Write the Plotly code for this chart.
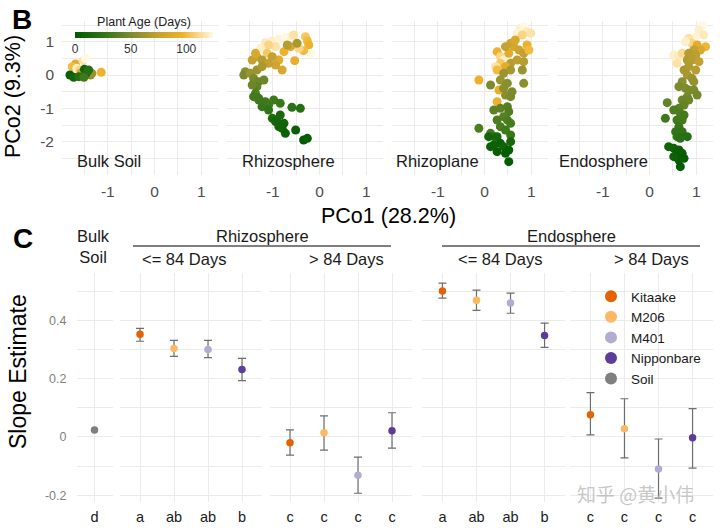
import plotly.graph_objects as go

# ---------------- Panel B: PCoA scores (PCo1, PCo2) and plant age (days) ----------------
compartments = ["Bulk Soil", "Rhizosphere", "Rhizoplane", "Endosphere"]

bulk_pc1 = [-1.69, -1.76, -1.66, -1.53, -1.48, -1.14, -1.60, -1.57, -1.37, -1.34,
            -1.81, -1.73, -1.62, -1.50, -1.46, -1.51, -1.41]
bulk_pc2 = [0.33, 0.25, 0.20, 0.43, 0.50, 0.08, 0.15, 0.07, 0.00, 0.05,
            0.00, -0.07, -0.05, 0.17, 0.05, -0.07, 0.15]
bulk_age = [90, 100, 120, 115, 125, 95, 110, 80, 55, 60,
            5, 10, 20, 8, 15, 30, 20]

rhizosphere_pc1 = [-1.16, -1.01, -0.87, -0.73, -0.59, -0.55, -0.30, -0.26, -0.23, -0.19,
                   -0.34, -0.44, -0.62, -0.76, -0.94, -1.09, -1.26, -1.12, -0.87, -0.80,
                   -0.94, -0.53, -1.34, -1.44, -1.23, -1.01, -0.69, -0.48, -1.09, -1.37,
                   -1.59, -1.62, -1.48, -1.34, -1.23, -1.41, -1.30, -1.19, -1.34, -1.44,
                   -1.37, -1.30, -1.16, -1.23, -1.09, -0.98, -0.84, -1.09, -0.59, -0.41, -1.30, -1.41,
                   -1.01, -0.91, -0.84, -0.76, -0.80, -0.94, -0.51, -0.34, -0.26, -0.73, -0.87]
rhizosphere_pc2 = [0.97, 1.03, 1.07, 1.13, 1.17, 1.20, 1.15, 1.03, 0.90, 0.65,
                   0.73, 0.80, 0.85, 0.70, 0.85, 0.90, 0.80, 0.65, 0.45, 0.15,
                   0.30, 0.43, 0.55, 0.45, 0.45, 0.55, 0.90, 0.95, 0.35, 0.65,
                   0.10, 0.00, 0.05, 0.15, 0.25, -0.10, -0.20, -0.15, -0.35, -0.30,
                   -0.55, -0.70, -0.80, -0.95, -0.90, -0.75, -0.85, -1.05, -0.97, -1.00, -0.75, -0.65,
                   -1.30, -1.35, -1.20, -1.45, -1.60, -1.40, -1.65, -1.95, -1.90, -1.75, -1.55]
rhizosphere_age = [118, 120, 122, 125, 120, 115, 105, 100, 95, 125,
                   100, 110, 85, 95, 115, 110, 120, 105, 90, 85,
                   80, 92, 80, 75, 70, 75, 70, 65, 75, 85,
                   55, 50, 60, 60, 65, 50, 45, 45, 40, 45,
                   35, 30, 30, 28, 30, 30, 28, 25, 22, 20, 30, 32,
                   15, 12, 14, 10, 8, 12, 5, 2, 4, 6, 10]

rhizoplane_pc1 = [0.77, 0.84, 0.91, 0.70, 0.99, 0.81,
                  0.27, 0.34, 0.41, 0.52, 0.63, 0.74, 0.84, 0.91, 0.95, 0.56,
                  0.45, 0.66, 0.34, 0.24, 0.56, 0.70, 0.84, 0.45, 0.27, -0.12,
                  0.56, 0.81, 0.84, 0.41, 0.34, 0.49, 0.59, 0.45, 0.13, 0.31, 0.56, 0.41, 0.27,
                  0.20, 0.34, 0.49, 0.52, 0.41, 0.27, 0.49, 0.56, 0.34, 0.45, 0.56, -0.12, 0.13, 0.20,
                  0.09, 0.27, 0.20, 0.34, 0.41, 0.52, 0.27, 0.45, 0.56, 0.52, 0.13]
rhizoplane_pc2 = [1.40, 1.45, 1.30, 1.25, 1.25, 1.20,
                  0.70, 0.55, 0.45, 0.65, 0.85, 0.75, 0.65, 0.90, 0.75, 0.95,
                  0.85, 1.05, 0.35, 0.25, 0.35, 0.45, 0.40, 0.25, 0.15, -0.15,
                  0.15, 0.15, -0.25, 0.05, -0.15, -0.25, -0.50, -0.60, -0.30, -0.45, -0.65, -0.40, -0.80,
                  -1.05, -1.00, -0.95, -1.10, -1.25, -1.35, -1.35, -1.45, -1.55, -1.65, -1.80, -1.60, -1.75, -1.85,
                  -1.85, -1.85, -2.10, -2.05, -2.15, -2.25, -2.30, -2.35, -2.00, -2.60, -2.15]
rhizoplane_age = [120, 125, 118, 122, 115, 110,
                  95, 110, 120, 90, 85, 80, 75, 95, 100, 80,
                  75, 85, 105, 115, 70, 72, 70, 90, 100, 95,
                  65, 60, 55, 60, 60, 55, 50, 55, 50, 92, 50, 55, 95,
                  40, 40, 38, 36, 38, 35, 35, 33, 34, 30, 28, 35, 30, 25,
                  10, 12, 8, 6, 10, 5, 4, 3, 12, 2, 6]

endosphere_pc1 = [1.13, 1.06, 1.16, 0.99, 0.84, 0.91, 0.77, 0.52, 0.63, 0.59, 0.70,
                  1.20, 1.02, 1.09,
                  0.95, 0.84, 0.99, 0.81, 0.91, 1.06, 0.84, 0.74, 0.99, 0.81, 0.91, 0.95,
                  0.70, 0.63, 0.77, 0.84, 0.95, 1.02, 0.81, 0.70, 0.84, 0.38, 0.74, 0.63,
                  0.52, 0.66, 0.74, 0.34, 0.59, 0.70, 0.63, 0.56, 0.70, 0.81, 0.59, 0.66,
                  0.41, 0.52, 0.63, 0.59, 0.70, 0.74, 0.63, 0.66, 0.52]
endosphere_pc2 = [1.50, 1.35, 1.20, 1.15, 1.10, 0.95, 1.00, 0.60, 0.55, 0.35, 0.65,
                  0.85, 0.90, 0.75,
                  0.75, 0.65, 0.60, 0.45, 0.45, 0.40, 0.25, 0.15, 0.15, 0.00, -0.10, -0.20,
                  -0.20, -0.35, -0.40, -0.45, -0.45, -0.60, -0.65, -0.75, -0.75, -0.83, -0.90, -1.00,
                  -1.05, -1.15, -1.20, -1.30, -1.35, -1.35, -1.55, -1.70, -1.70, -1.85, -1.85, -1.90,
                  -2.15, -2.20, -2.25, -2.35, -2.35, -2.50, -2.55, -2.75, -2.45]
endosphere_age = [125, 120, 118, 122, 115, 110, 120, 120, 118, 115, 112,
                  98, 90, 85,
                  75, 70, 72, 68, 70, 75, 68, 65, 70, 65, 60, 58,
                  55, 50, 52, 50, 50, 48, 48, 45, 45, 42, 42, 40,
                  35, 35, 32, 30, 30, 32, 28, 26, 25, 20, 25, 22,
                  10, 8, 6, 5, 5, 3, 4, 2, 7]

pc_ticks = [-2, -1, 0, 1]
pc_ticktext = ["-2", "-1", "0", "1"]

# ---------------- Panel C: slope estimates with confidence limits ----------------
genotypes = ["Kitaake", "M206", "M401", "Nipponbare"]
genotype_colors = ["#e66101", "#fdb863", "#b2abd2", "#5e3c99"]
soil_label = "Soil"
soil_color = "#7f7f7f"

soil_slope = [0.024]
soil_letter = ["d"]

rhizo_early_slope = [0.352, 0.303, 0.300, 0.231]
rhizo_early_low = [0.328, 0.276, 0.272, 0.193]
rhizo_early_high = [0.372, 0.331, 0.331, 0.269]
rhizo_early_letters = ["a", "ab", "ab", "b"]

rhizo_late_slope = [-0.020, 0.014, -0.131, 0.021]
rhizo_late_low = [-0.062, -0.045, -0.193, -0.038]
rhizo_late_high = [0.024, 0.072, -0.069, 0.083]
rhizo_late_letters = ["c", "c", "c", "c"]

endo_early_slope = [0.500, 0.469, 0.459, 0.348]
endo_early_low = [0.476, 0.434, 0.424, 0.307]
endo_early_high = [0.527, 0.503, 0.493, 0.390]
endo_early_letters = ["a", "ab", "ab", "b"]

endo_late_slope = [0.076, 0.028, -0.110, -0.003]
endo_late_low = [0.007, -0.072, -0.210, -0.107]
endo_late_high = [0.152, 0.131, -0.007, 0.097]
endo_late_letters = ["c", "c", "c", "c"]

slope_ticks = [-0.2, 0, 0.2, 0.4]
slope_ticktext = ["-0.2", "0", "0.2", "0.4"]

# ---------------- figure ----------------
W, H = 720, 531
FONT = "Liberation Sans, Arial, Helvetica, sans-serif"
GRID = "#ebebeb"


def fx(p):
    return p / W


def fy(p):
    return 1 - p / H


def ref(prefix, n):
    return prefix if n == 1 else f"{prefix}{n}"


fig = go.Figure()
layout_axes = {}

# Panel B facets
b_domains = [(62, 218), (227, 383), (392, 548), (557, 713)]
b_data = [(bulk_pc1, bulk_pc2, bulk_age),
          (rhizosphere_pc1, rhizosphere_pc2, rhizosphere_age),
          (rhizoplane_pc1, rhizoplane_pc2, rhizoplane_age),
          (endosphere_pc1, endosphere_pc2, endosphere_age)]

for i, (pc1, pc2, age) in enumerate(b_data):
    n = i + 1
    fig.add_trace(go.Scatter(
        x=pc1, y=pc2, mode="markers",
        marker=dict(color=age, coloraxis="coloraxis", size=9, line=dict(width=0)),
        xaxis=ref("x", n), yaxis=ref("y", n), showlegend=False, hoverinfo="skip"))
    l, r = b_domains[i]
    layout_axes[ref("xaxis", n)] = dict(
        domain=[fx(l), fx(r)], range=[-1.98, 1.36], anchor=ref("y", n),
        tickmode="array", tickvals=[-1, 0, 1], ticktext=["-1", "0", "1"],
        showgrid=True, gridcolor=GRID, gridwidth=1.3,
        minor=dict(tickvals=[-1.5, -0.5, 0.5], showgrid=True, gridcolor=GRID, gridwidth=1.3, ticks=""),
        zeroline=False, showline=False, ticks="", ticklabelstandoff=5,
        tickfont=dict(size=15.5, color="#4d4d4d"), fixedrange=True)
    layout_axes[ref("yaxis", n)] = dict(
        domain=[fy(175), fy(21)], range=[-3.0, 1.62], anchor=ref("x", n),
        tickmode="array", tickvals=pc_ticks, ticktext=pc_ticktext,
        showticklabels=(n == 1),
        showgrid=True, gridcolor=GRID, gridwidth=1.3,
        minor=dict(tickvals=[-2.5, -1.5, -0.5, 0.5, 1.5], showgrid=True, gridcolor=GRID, gridwidth=1.3, ticks=""),
        zeroline=False, showline=False, ticks="", ticklabelstandoff=7,
        tickfont=dict(size=15.5, color="#4d4d4d"), fixedrange=True)

# Panel C facets
c_domains = [(76.5, 112.5), (119.6, 262.4), (269.6, 412.4), (422, 565), (570, 713)]
c_ranges = [[-0.53, 0.53], [-0.6, 3.6], [-0.6, 3.6], [-0.6, 3.6], [-0.6, 3.6]]
c_facets = [
    (soil_slope, None, None, soil_letter, [soil_color]),
    (rhizo_early_slope, rhizo_early_low, rhizo_early_high, rhizo_early_letters, genotype_colors),
    (rhizo_late_slope, rhizo_late_low, rhizo_late_high, rhizo_late_letters, genotype_colors),
    (endo_early_slope, endo_early_low, endo_early_high, endo_early_letters, genotype_colors),
    (endo_late_slope, endo_late_low, endo_late_high, endo_late_letters, genotype_colors),
]

for j, (slope, low, high, letters, cols) in enumerate(c_facets):
    n = 5 + j
    xs = list(range(len(slope)))
    err = None
    if low is not None:
        err = dict(type="data", symmetric=False,
                   array=[h - s for h, s in zip(high, slope)],
                   arrayminus=[s - lo for s, lo in zip(slope, low)],
                   color="#6e6e6e", thickness=1.2, width=4)
    fig.add_trace(go.Scatter(
        x=xs, y=slope, mode="markers",
        marker=dict(color=cols, size=7.5, line=dict(width=0)),
        error_y=err, xaxis=ref("x", n), yaxis=ref("y", n),
        showlegend=False, hoverinfo="skip"))
    l, r = c_domains[j]
    layout_axes[ref("xaxis", n)] = dict(
        domain=[fx(l), fx(r)], range=c_ranges[j], anchor=ref("y", n),
        tickmode="array", tickvals=xs, ticktext=letters,
        showgrid=True, gridcolor=GRID, gridwidth=1.3,
        zeroline=False, showline=False, ticks="", ticklabelstandoff=4,
        tickfont=dict(size=14.5, color="#1a1a1a"), fixedrange=True)
    layout_axes[ref("yaxis", n)] = dict(
        domain=[fy(502), fy(273)], range=[-0.223, 0.562], anchor=ref("x", n),
        tickmode="array", tickvals=slope_ticks, ticktext=slope_ticktext,
        showticklabels=(j == 0),
        showgrid=True, gridcolor=GRID, gridwidth=1.3,
        minor=dict(tickvals=[-0.1, 0.1, 0.3, 0.5], showgrid=True, gridcolor=GRID, gridwidth=1.3, ticks=""),
        zeroline=False, showline=False, ticks="", ticklabelstandoff=9,
        tickfont=dict(size=12.5, color="#7f7f7f"), fixedrange=True)

# legend entries for panel C
for name, col in list(zip(genotypes, genotype_colors)) + [(soil_label, soil_color)]:
    fig.add_trace(go.Scatter(x=[None], y=[None], mode="markers", name=name,
                             marker=dict(color=col, size=14),
                             xaxis="x5", yaxis="y5", showlegend=True))

annotations = [
    dict(text="B", x=fx(22), y=fy(20), font=dict(size=28, color="#000000", weight="bold")),
    dict(text="C", x=fx(22.5), y=fy(238.5), font=dict(size=28, color="#000000", weight="bold")),
    dict(text="PCo2 (9.3%)", x=fx(13), y=fy(97), textangle=-90, font=dict(size=21.5, color="#000000")),
    dict(text="PCo1 (28.2%)", x=fx(388), y=fy(216), font=dict(size=21.5, color="#000000")),
    dict(text="Slope Estimate", x=fx(18), y=fy(372), textangle=-90, font=dict(size=23, color="#000000")),
    dict(text="Bulk<br>Soil", x=fx(93), y=fy(247), font=dict(size=16.5, color="#1a1a1a")),
    dict(text="Rhizosphere", x=fx(262), y=fy(236), font=dict(size=16.5, color="#1a1a1a")),
    dict(text="<= 84 Days", x=fx(184), y=fy(259), font=dict(size=16.5, color="#1a1a1a")),
    dict(text="> 84 Days", x=fx(346), y=fy(259), font=dict(size=16.5, color="#1a1a1a")),
    dict(text="Endosphere", x=fx(571), y=fy(236), font=dict(size=16.5, color="#1a1a1a")),
    dict(text="<= 84 Days", x=fx(500), y=fy(259), font=dict(size=16.5, color="#1a1a1a")),
    dict(text="> 84 Days", x=fx(651), y=fy(259), font=dict(size=16.5, color="#1a1a1a")),
    dict(text="知乎 @黄小伟", x=fx(635), y=fy(493),
         font=dict(size=19, color="rgba(185,185,185,0.8)", family="Noto Sans CJK SC")),
]
facet_label_x = [75, 240, 394, 557]
for lab, lx in zip(compartments, facet_label_x):
    annotations.append(dict(text=lab, x=fx(lx), y=fy(161), xanchor="left",
                            font=dict(size=16.5, color="#1a1a1a")))
for a in annotations:
    a.setdefault("xref", "paper")
    a.setdefault("yref", "paper")
    a.setdefault("showarrow", False)
    a.setdefault("xanchor", "center")
    a.setdefault("yanchor", "middle")

shapes = [
    dict(type="line", xref="paper", yref="paper", x0=fx(133), x1=fx(391), y0=fy(246), y1=fy(246),
         line=dict(color="#000000", width=1.1)),
    dict(type="line", xref="paper", yref="paper", x0=fx(442), x1=fx(700), y0=fy(246), y1=fy(246),
         line=dict(color="#000000", width=1.1)),
]

colorscale = [
    [0.0, "#005a00"],
    [0.2, "#2e7416"],
    [0.4, "#7a8a2c"],
    [0.6, "#c3a132"],
    [0.78, "#f0b22a"],
    [0.9, "#fbd98f"],
    [1.0, "#fff8e4"],
]

fig.update_layout(
    width=W, height=H, autosize=False,
    margin=dict(l=0, r=0, t=0, b=0, autoexpand=False),
    template="none",
    paper_bgcolor="#ffffff", plot_bgcolor="#ffffff",
    font=dict(family=FONT, color="#1a1a1a"),
    coloraxis=dict(
        colorscale=colorscale, cmin=0, cmax=124,
        colorbar=dict(
            orientation="h", x=fx(144), xanchor="center", y=fy(35), yanchor="middle",
            len=138, lenmode="pixels", thickness=6, outlinewidth=0,
            tickmode="array", tickvals=[0, 50, 100], ticks="", ticklen=0,
            tickfont=dict(size=12, color="#333333"),
            title=dict(text="Plant Age (Days)", side="top", font=dict(size=12.5, color="#222222")),
            xpad=0, ypad=0, bgcolor="rgba(0,0,0,0)")),
    legend=dict(x=fx(591), y=fy(281), xanchor="left", yanchor="top",
                font=dict(size=13.5, color="#1a1a1a"), itemsizing="constant",
                bgcolor="rgba(0,0,0,0)", borderwidth=0, tracegroupgap=0, itemwidth=30),
    annotations=annotations,
    shapes=shapes,
    showlegend=True,
    **layout_axes,
)

fig.write_html("out.html", config={"displayModeBar": False},
               post_script="document.body.style.margin = '0px';")
